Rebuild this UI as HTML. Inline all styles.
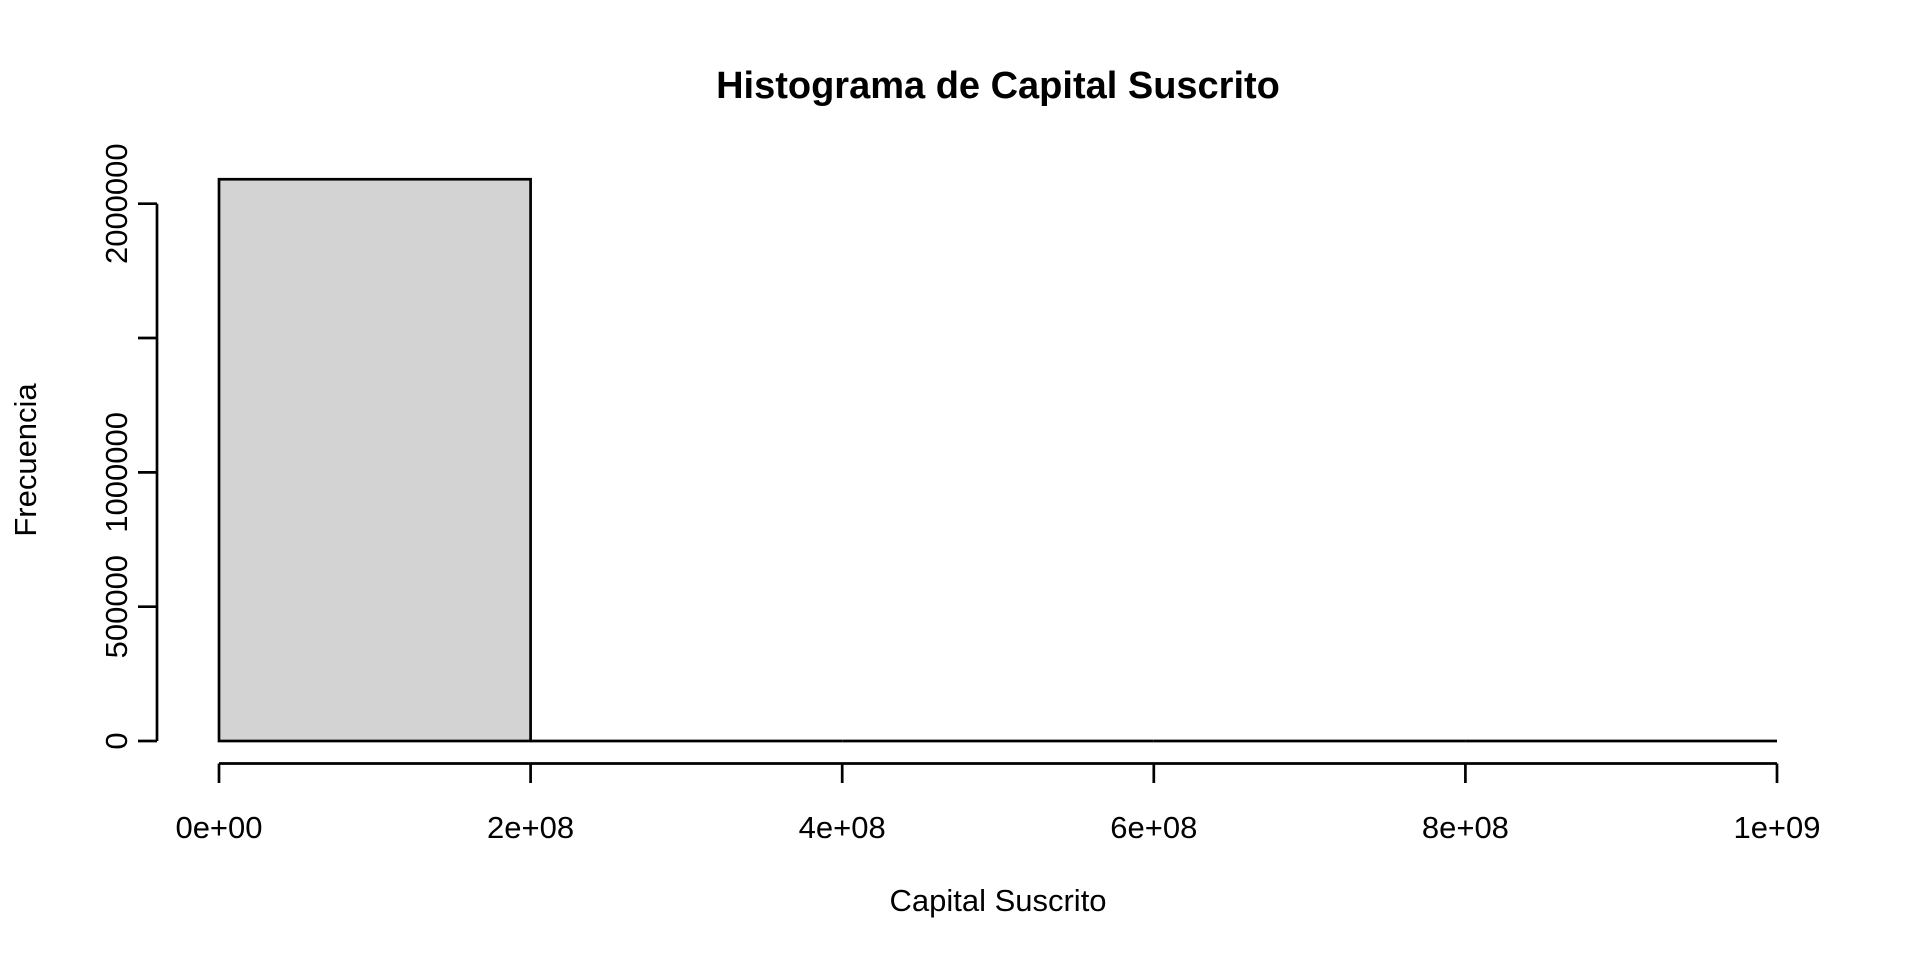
<!DOCTYPE html>
<html><head><meta charset="utf-8"><style>
html,body{margin:0;padding:0;background:#fff;}
svg{display:block;font-family:"Liberation Sans",Arial,sans-serif;}
</style></head><body>
<svg id="chart" width="1920" height="960" viewBox="0 0 1920 960">
<text x="998" y="98" text-anchor="middle" font-size="38" font-weight="bold">Histograma de Capital Suscrito</text>
<text x="998" y="911" text-anchor="middle" font-size="31">Capital Suscrito</text>
<text transform="translate(36,460) rotate(-90)" text-anchor="middle" font-size="31">Frecuencia</text>
<g id="bars"></g>
<g id="xaxis"></g>
<g id="yaxis"></g>
</svg>
<script>
const binEdges = [0, 2e8, 4e8, 6e8, 8e8, 1e9];
const counts = [2091000, 0, 0, 0, 0];
const xTicks = [0, 2e8, 4e8, 6e8, 8e8, 1e9];
const xTickLabels = ["0e+00", "2e+08", "4e+08", "6e+08", "8e+08", "1e+09"];
const yTicks = [0, 500000, 1000000, 1500000, 2000000];
const yTickLabels = ["0", "500000", "1000000", "", "2000000"];

const NS = "http://www.w3.org/2000/svg";
const X0 = 219, X1 = 1777, Y0 = 741, Y2M = 203.7;
function xs(v){ return X0 + (v - 0) / 1e9 * (X1 - X0); }
function ys(v){ return Y0 - v / 2e6 * (Y0 - Y2M); }
function mk(tag, attrs, parent){
  const e = document.createElementNS(NS, tag);
  for (const k in attrs) e.setAttribute(k, attrs[k]);
  parent.appendChild(e);
  return e;
}
const LW = 2.7;
const bars = document.getElementById("bars");
counts.forEach((c, i) => {
  const xa = xs(binEdges[i]), xb = xs(binEdges[i+1]);
  const yt = ys(c);
  const h = Y0 - yt;
  let r;
  if (h > 0.5) {
    r = mk("rect", {x: xa, y: yt, width: xb - xa, height: h, fill: "#d3d3d3", stroke: "#000", "stroke-width": LW}, bars);
  } else {
    r = mk("line", {x1: xa, x2: xb, y1: Y0, y2: Y0, stroke: "#000", "stroke-width": LW}, bars);
  }
  
  
});
const xa = document.getElementById("xaxis");
const axY = 763.5;
const xl = mk("line", {x1: xs(xTicks[0]), x2: xs(xTicks[xTicks.length-1]), y1: axY, y2: axY, stroke: "#000", "stroke-width": LW}, xa);


xTicks.forEach((t, i) => {
  const x = xs(t);
  const tk = mk("line", {x1: x, x2: x, y1: axY, y2: 783, stroke: "#000", "stroke-width": LW}, xa);
  
  
  const lb = mk("text", {x: x, y: 838, "text-anchor": "middle", "font-size": 31}, xa);
  lb.textContent = xTickLabels[i];
  
  
});
const ya = document.getElementById("yaxis");
const axX = 157;
const yl = mk("line", {x1: axX, x2: axX, y1: ys(yTicks[0]), y2: ys(yTicks[yTicks.length-1]), stroke: "#000", "stroke-width": LW}, ya);


yTicks.forEach((t, i) => {
  const y = ys(t);
  const tk = mk("line", {x1: 138, x2: axX, y1: y, y2: y, stroke: "#000", "stroke-width": LW}, ya);
  
  
  if (yTickLabels[i]) {
    const lb = mk("text", {transform: "translate(127," + y + ") rotate(-90)", "text-anchor": "middle", "font-size": 31}, ya);
    lb.textContent = yTickLabels[i];
    
    
  }
});
</script>
</body></html>
